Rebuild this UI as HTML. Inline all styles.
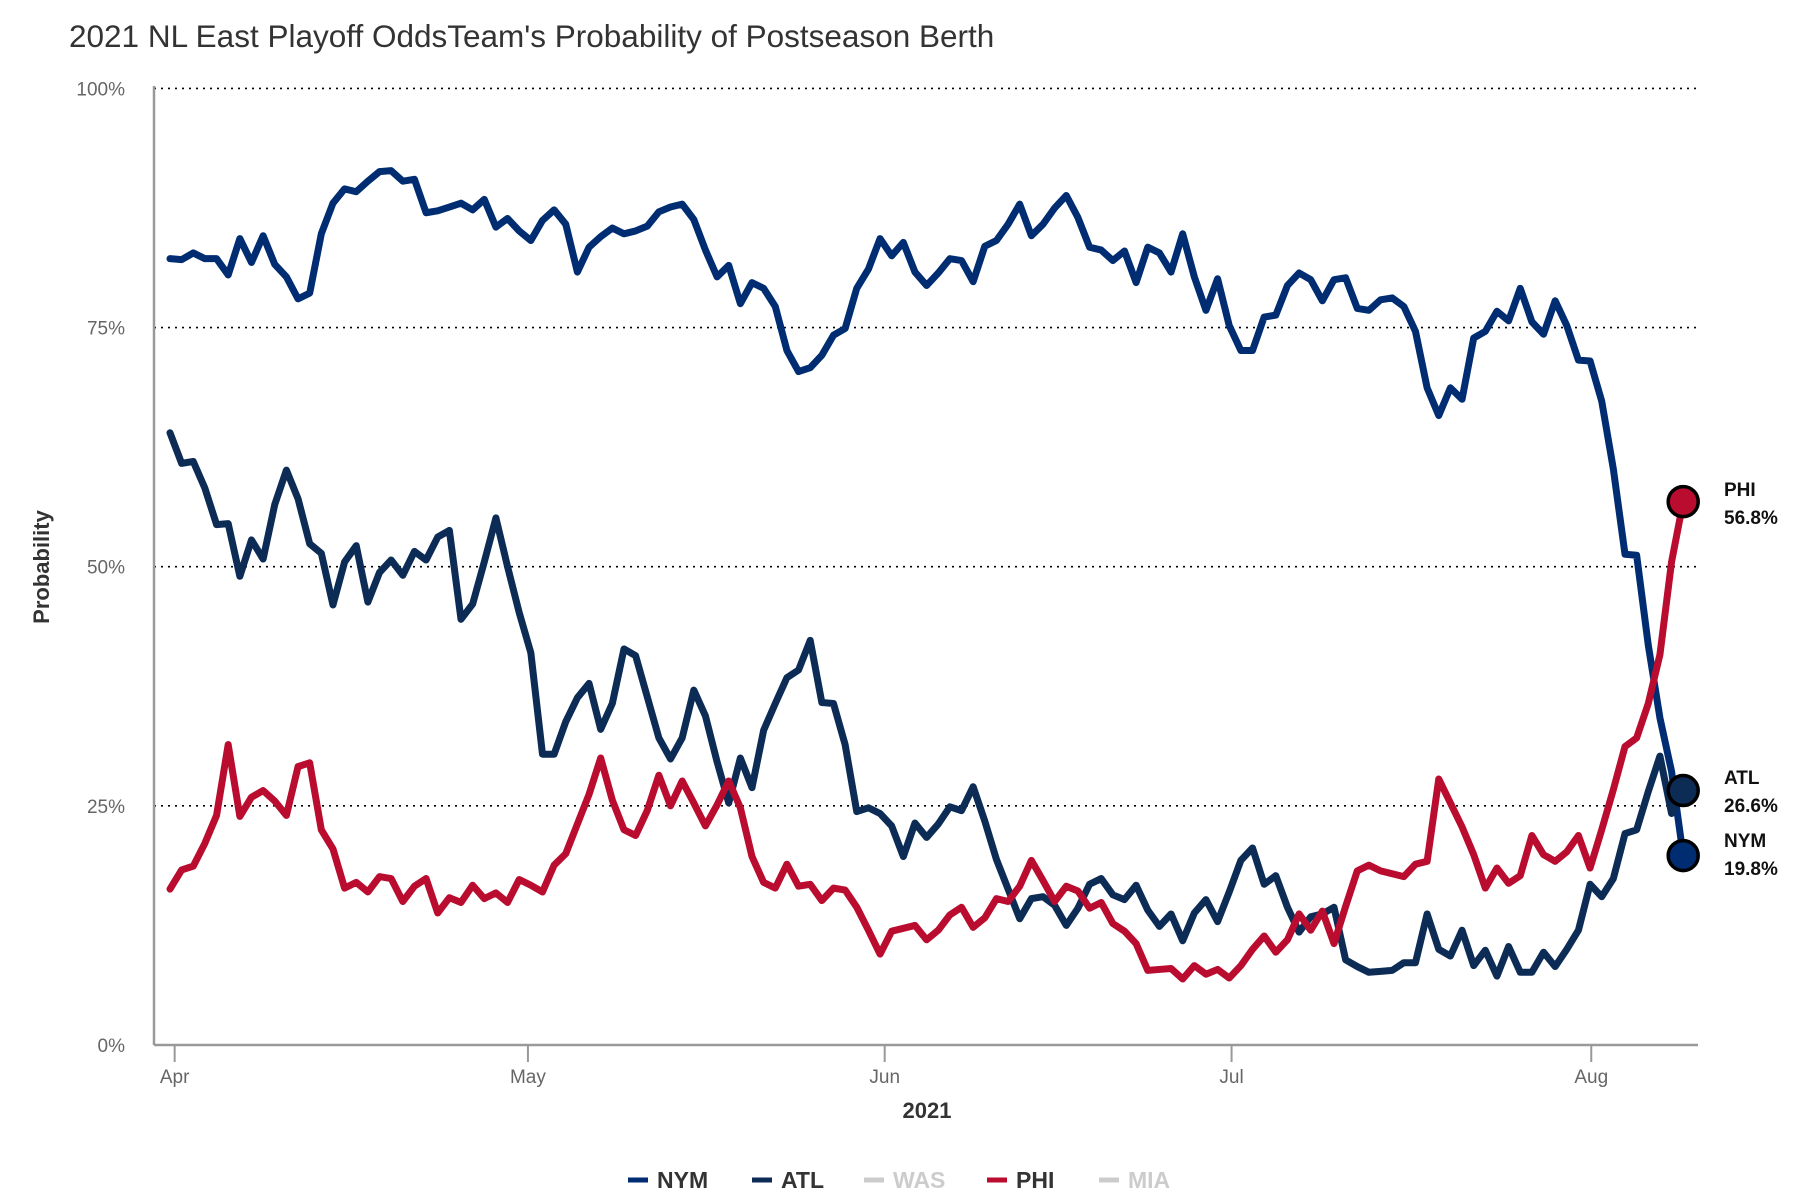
<!DOCTYPE html>
<html><head><meta charset="utf-8"><style>
body{margin:0;background:#fff;}
svg{display:block;font-family:"Liberation Sans",sans-serif;}
</style></head><body>
<svg id="chart" width="1800" height="1200" viewBox="0 0 1800 1200">
<text x="69" y="47" font-size="31.5" fill="#333">2021 NL East Playoff OddsTeam's Probability of Postseason Berth</text>
<g id="grid"></g>
<line x1="154" y1="86" x2="154" y2="1045" stroke="#999" stroke-width="2.5"/>
<line x1="154" y1="1045" x2="1698" y2="1045" stroke="#999" stroke-width="2.5"/>
<g id="xticks"></g>
<text x="927" y="1118" font-size="22" font-weight="bold" fill="#333" text-anchor="middle">2021</text>
<text transform="translate(49,567) rotate(-90)" font-size="22" font-weight="bold" fill="#333" text-anchor="middle">Probability</text>
<g id="series"></g>
<g id="legend"></g>
</svg>
<script>
const yTicks = [0, 25, 50, 75, 100];
const monthLabels = ["Apr", "May", "Jun", "Jul", "Aug"];
const monthIdx = [0.4, 30.75, 61.4, 91.2, 122.1];
const teams = ["NYM", "ATL", "WAS", "PHI", "MIA"];
const nym = [82.2,82.1,82.8,82.2,82.2,80.5,84.3,81.8,84.6,81.6,80.3,78.0,78.6,84.8,88.0,89.5,89.2,90.3,91.3,91.4,90.3,90.5,87.0,87.2,87.6,88.0,87.3,88.4,85.5,86.4,85.1,84.1,86.2,87.3,
85.8,80.8,83.4,84.5,85.4,84.8,85.1,85.6,87.1,87.6,87.9,86.3,83.1,80.3,81.5,77.5,79.7,79.1,77.2,72.6,70.4,70.8,72.1,74.2,74.9,79.1,81.1,84.3,82.5,83.9,80.8,79.4,80.7,
82.2,82.0,79.8,83.5,84.1,85.8,87.9,84.6,85.8,87.5,88.8,86.5,83.4,83.1,82.0,83.0,79.7,83.4,82.8,80.8,84.8,80.3,76.8,80.1,75.2,72.6,72.6,76.1,76.3,79.4,80.7,
80.0,77.8,80.0,80.2,77.0,76.8,77.9,78.1,77.2,74.6,68.7,65.8,68.7,67.5,73.9,74.6,76.7,75.7,79.1,75.6,74.3,77.8,75.2,71.6,71.5,67.3,60.2,51.3,51.2,41.8,34.2,28.6,19.8];
const atl = [64.0,60.8,61.0,58.2,54.4,54.5,49.0,52.8,50.8,56.5,60.1,57.1,52.4,51.4,46.0,50.5,52.2,46.3,49.4,50.7,49.1,51.6,50.7,53.1,53.8,44.5,46.1,50.5,55.1,50.0,45.2,41.0,30.4,30.4,
33.8,36.3,37.8,33.0,35.7,41.4,40.7,36.4,32.1,29.9,32.1,37.1,34.4,29.6,25.3,30.0,26.9,32.9,35.7,38.4,39.2,42.3,35.8,35.7,31.4,24.4,24.8,24.2,22.9,19.7,23.2,21.7,23.1,
24.9,24.5,27.0,23.4,19.4,16.3,13.2,15.3,15.5,14.6,12.5,14.3,16.8,17.4,15.7,15.2,16.7,14.1,12.4,13.7,10.9,13.8,15.2,12.9,16.0,19.3,20.6,16.8,17.7,14.4,11.8,
13.4,13.7,14.4,8.9,8.2,7.6,7.7,7.8,8.6,8.6,13.7,10.0,9.3,12.0,8.3,9.9,7.2,10.3,7.6,7.6,9.7,8.2,10.0,12.0,16.8,15.5,17.4,22.1,22.5,26.5,30.2,24.2,26.6];
const phi = [16.3,18.3,18.7,21.1,24.0,31.4,23.9,25.9,26.6,25.5,24.0,29.1,29.5,22.5,20.5,16.4,17.0,16.0,17.6,17.4,15.0,16.6,17.4,13.8,15.4,14.9,16.7,15.3,15.9,14.9,17.3,16.7,16.0,18.8,
20.0,23.1,26.2,30.0,25.6,22.5,21.9,24.5,28.2,25.0,27.6,25.3,22.9,25.1,27.6,24.8,19.7,17.0,16.4,18.9,16.6,16.8,15.1,16.4,16.2,14.4,12.0,9.5,11.9,12.2,12.5,11.0,12.0,
13.6,14.4,12.3,13.3,15.3,15.0,16.6,19.3,17.2,15.0,16.6,16.1,14.3,14.9,12.7,11.9,10.6,7.8,7.9,8.0,6.9,8.3,7.4,7.9,7.0,8.3,10.0,11.4,9.7,11.0,13.7,
12.0,14.0,10.6,14.5,18.2,18.8,18.2,17.9,17.6,18.9,19.2,27.8,25.3,22.8,19.9,16.4,18.5,16.9,17.7,21.9,19.9,19.2,20.2,21.9,18.5,22.5,26.7,31.2,32.1,35.7,40.8,50.5,56.8];

const NS = "http://www.w3.org/2000/svg";
const xS = i => 170 + 11.64 * i;
const yS = v => 1045 - v * 9.566;
function mk(tag, attrs, parent){const e=document.createElementNS(NS,tag);for(const k in attrs)e.setAttribute(k,attrs[k]);parent.appendChild(e);return e;}
const grid=document.getElementById('grid');
yTicks.forEach(t=>{
  if(t>0){const l=mk('line',{x1:154,x2:1698,y1:yS(t),y2:yS(t),stroke:'#000','stroke-width':1.6,'stroke-dasharray':'2 5'},grid);
  
  }
  const tx=mk('text',{x:125,y:yS(t)+7,'font-size':19,fill:'#666','text-anchor':'end'},grid);
  tx.textContent=t+'%';
  
  
});
const xt=document.getElementById('xticks');
monthLabels.forEach((m,k)=>{
  const x=xS(monthIdx[k]);
  const l=mk('line',{x1:x,x2:x,y1:1045,y2:1062,stroke:'#999','stroke-width':2},xt);
  
  
  const t=mk('text',{x:x,y:1083,'font-size':19,fill:'#666','text-anchor':'middle'},xt);
  t.textContent=m;
  
  
});
const ser=document.getElementById('series');
const defs=[["NYM",nym,"#002D72"],["ATL",atl,"#0C2C56"],["PHI",phi,"#BA0C2F"]];
defs.forEach(([n,d,c])=>{
  const p=mk('polyline',{points:d.map((v,i)=>xS(i)+','+yS(v)).join(' '),fill:'none',stroke:c,'stroke-width':7,'stroke-linejoin':'round','stroke-linecap':'round'},ser);
  
  
});
defs.forEach(([n,d,c])=>{
  const i=d.length-1;
  const ci=mk('circle',{cx:xS(i),cy:yS(d[i]),r:15,fill:c,stroke:'#000','stroke-width':3.5},ser);
  
  
});
const labOff={NYM:[841,869],ATL:[778,806],PHI:[490,518]};
defs.forEach(([n,d])=>{
  const v=d[d.length-1];
  const a=mk('text',{x:1724,y:labOff[n][0]+6,'font-size':19,'font-weight':'bold',fill:'#111'},ser);
  a.textContent=n;
  
  
  const b=mk('text',{x:1724,y:labOff[n][1]+6,'font-size':19,'font-weight':'bold',fill:'#111'},ser);
  b.textContent=v.toFixed(1)+'%';
  
  
});
const lg=document.getElementById('legend');
const lgX=[628,752,864,987,1099];
const lgC=["#002D72","#0C2C56","#ccc","#BA0C2F","#ccc"];
teams.forEach((t,k)=>{
  const g=mk('g',{},lg);
  
  
  mk('line',{x1:lgX[k],x2:lgX[k]+20,y1:1180,y2:1180,stroke:lgC[k],'stroke-width':5},g);
  const tx=mk('text',{x:lgX[k]+29,y:1188,'font-size':23,'font-weight':'bold',fill:(lgC[k]=="#ccc"?"#ccc":"#333")},g);
  tx.textContent=t;
});
</script>
</body></html>
